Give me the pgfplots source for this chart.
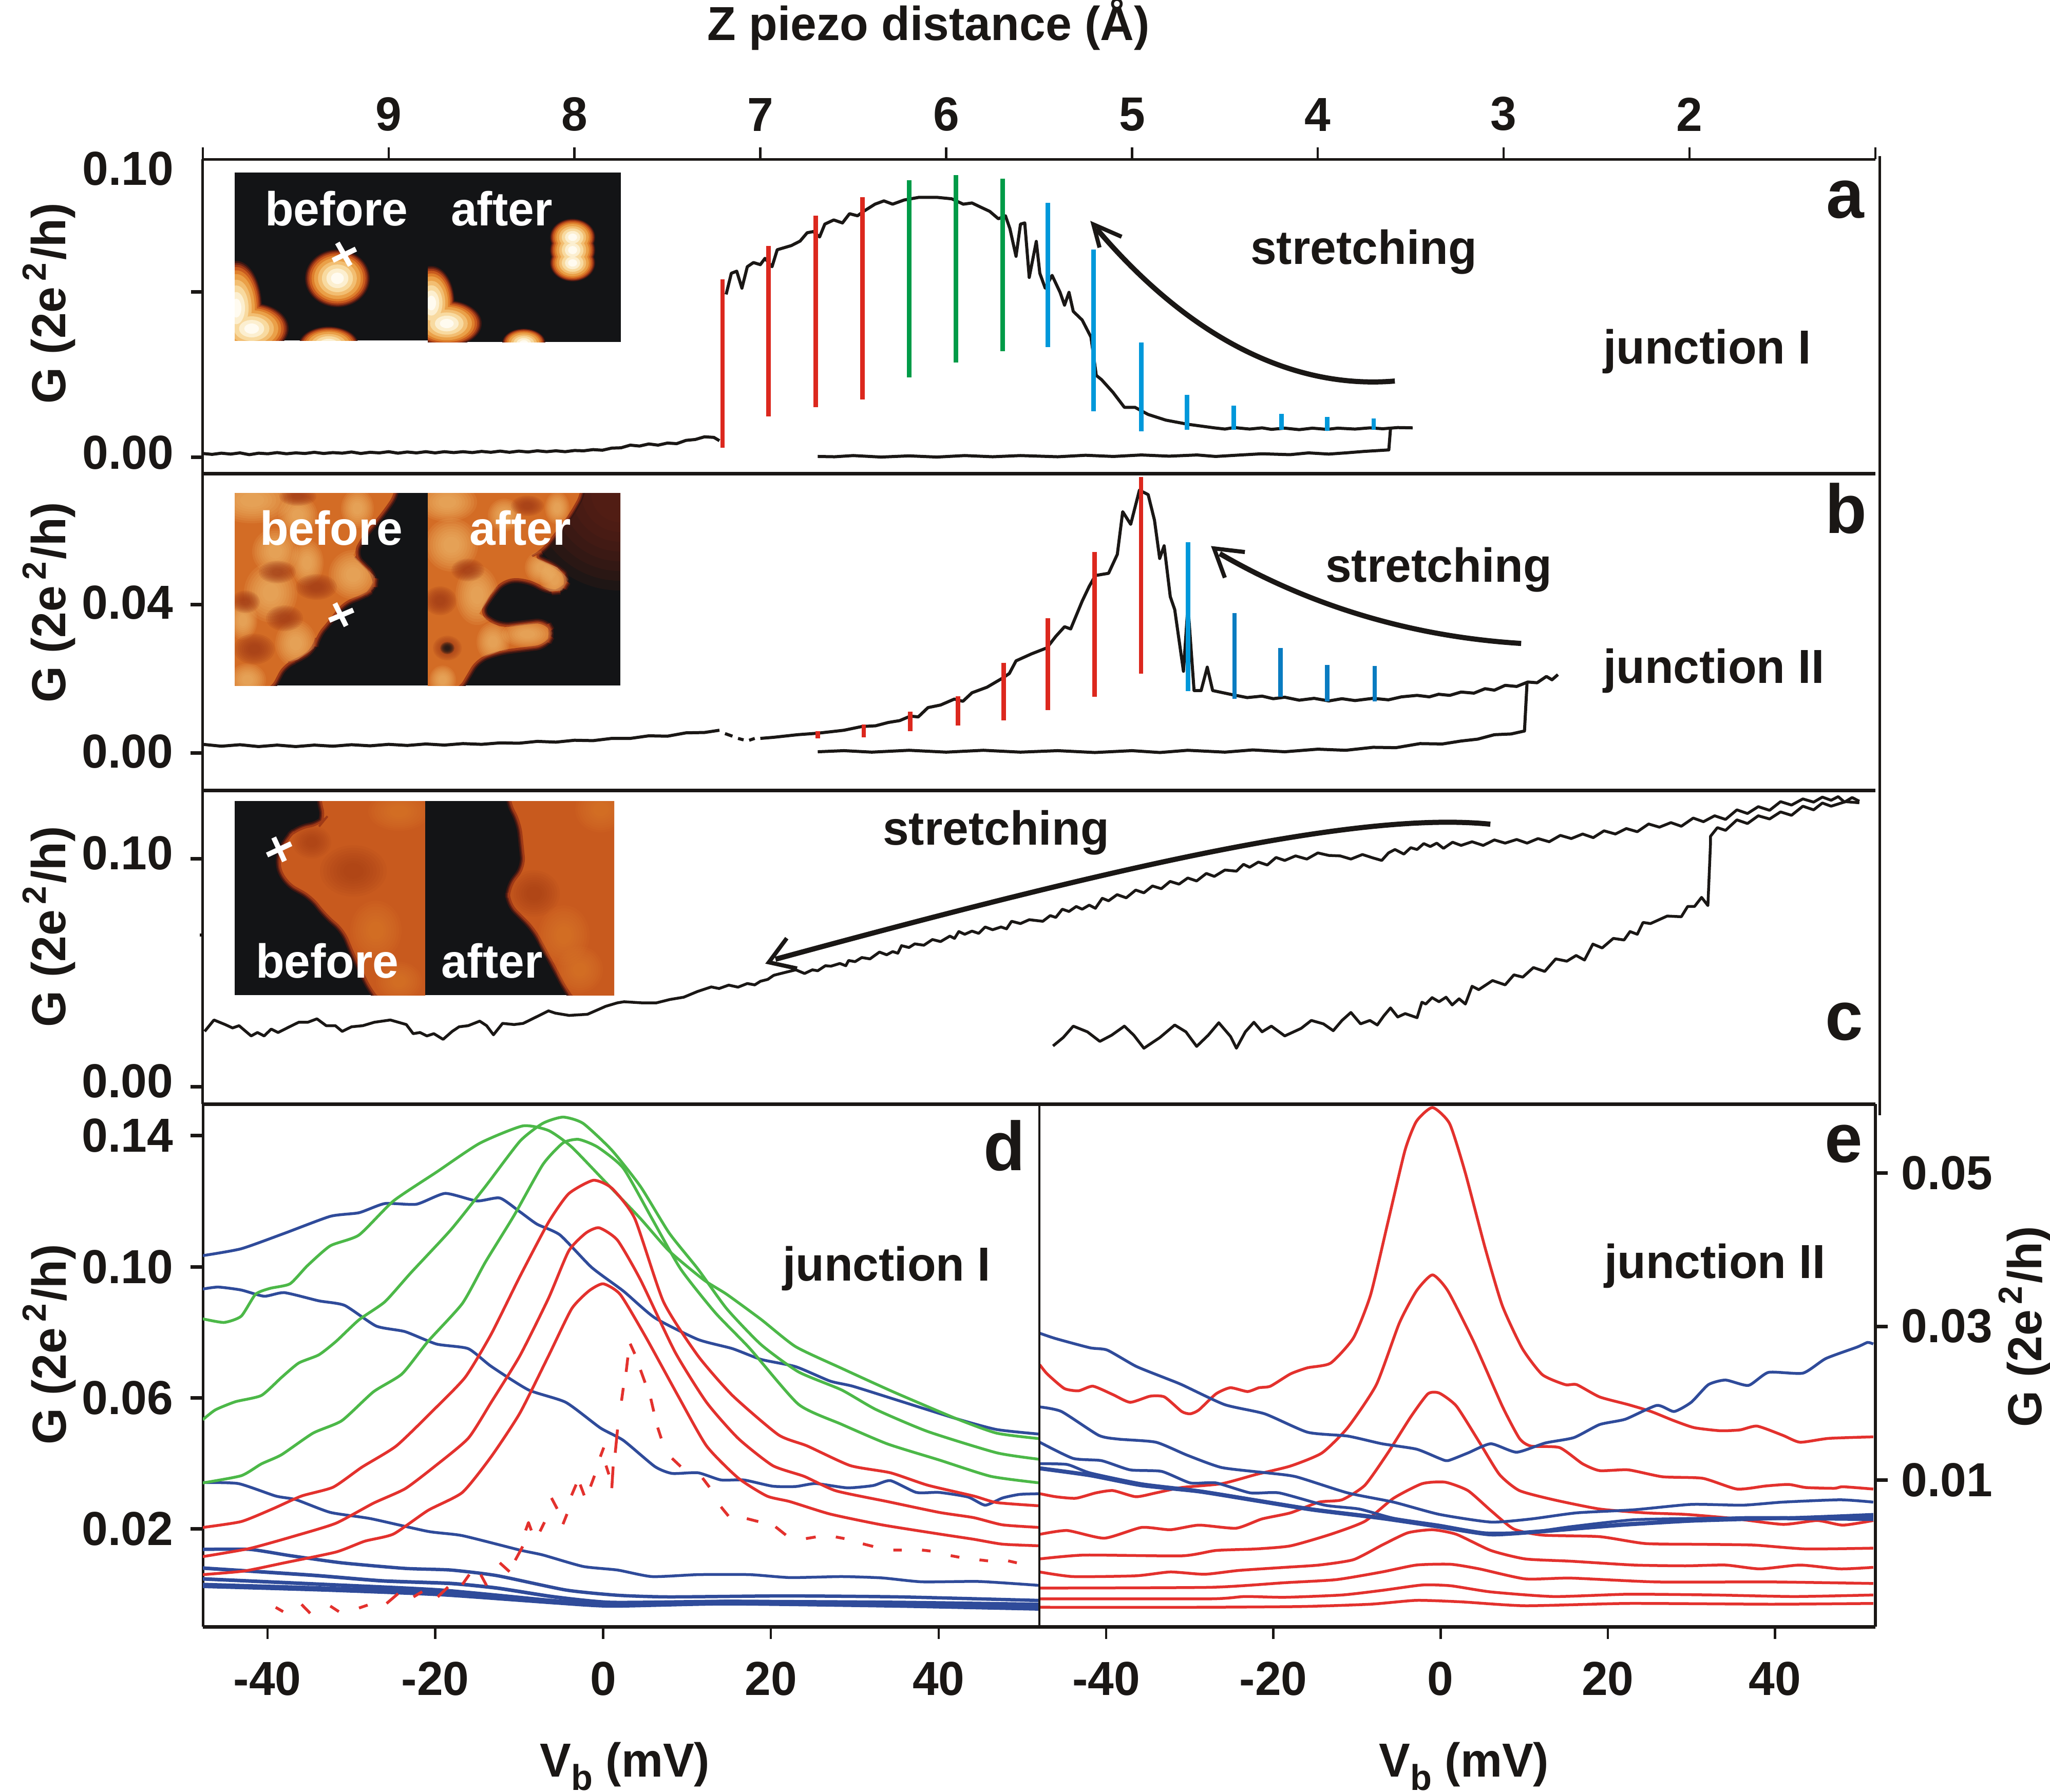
\documentclass[border=0pt]{standalone}
\usepackage{fontspec}
\setmainfont[FakeStretch=0.98]{Liberation Sans}
\usepackage{pgfplots}
\pgfplotsset{compat=1.18}

\definecolor{ink}{HTML}{1A1715}
\definecolor{redbar}{HTML}{DC281E}
\definecolor{greenbar}{HTML}{009B48}
\definecolor{bluebar}{HTML}{0098DA}
\definecolor{bluebarb}{HTML}{0A7CC1}
\definecolor{cred}{HTML}{E3312D}
\definecolor{cgreen}{HTML}{4CB848}
\definecolor{cblue}{HTML}{2F4B9A}
\definecolor{bg}{HTML}{131416}
\definecolor{c1}{HTML}{3A1612}
\definecolor{c2}{HTML}{6E2414}
\definecolor{c3}{HTML}{A03A16}
\definecolor{c4}{HTML}{C85A1E}
\definecolor{c5}{HTML}{DE7F2C}
\definecolor{c6}{HTML}{EAA048}
\definecolor{c7}{HTML}{F2BE72}
\definecolor{c8}{HTML}{F8DAA0}
\definecolor{c9}{HTML}{FCEFD0}
\definecolor{c10}{HTML}{FFFBF0}

\newcommand\lbl{\bfseries\fontsize{9.3}{11}\selectfont}
\newcommand\lett{\bfseries\fontsize{13.5}{15}\selectfont}
\newcommand\gunit{G (2e\textsuperscript{\,2}/h)}
\newcommand\vbias{V\raisebox{-2.6pt}{\fontsize{7}{8}\selectfont b} (mV)}

% contour layers of blobs: list x/y/rx/ry, list scale/colour
\newcommand\blobs[2]{%
  \foreach \lev/\cl in {#2}{%
    \foreach \px/\py/\rx/\ry in {#1}{%
      \fill[\cl] (\px,\py) ellipse ({\rx*\lev} and {\ry*\lev});
    }
  }}
% soft blobs: stacked see-through ellipses
\newcommand\soft[3]{%
  \foreach \lev in {1,.9,.8,.7,.6,.5,.4,.3}{%
    \foreach \px/\py/\rx/\ry in {#1}{%
      \fill[#2,opacity=#3] (\px,\py) ellipse ({\rx*\lev} and {\ry*\lev});
    }
  }}
\newcommand\field[2]{%
  \draw[c1,line width=1.5pt,rounded corners=2pt] #1 -- cycle;
  \draw[c2,line width=.9pt,rounded corners=2pt] #1 -- cycle;
  \draw[c3,line width=.4pt,fill=#2,rounded corners=2pt] #1 -- cycle;}
\newcommand\pab{(400,930) -- (772,930) -- (772,960) -- (746,998) -- (705,1047) -- (688,1081) -- (705,1099) -- (730,1123) -- (728,1146) -- (705,1161) -- (670,1172) -- (643,1208) -- (616,1239) -- (612,1262) -- (580,1284) -- (554,1293) -- (527,1345) -- (400,1345)}
\newcommand\paa{(800,930) -- (1134,930) -- (1134,960) -- (1107,1007) -- (1054,1074) -- (1036,1083) -- (1085,1105) -- (1107,1128) -- (1094,1150) -- (1071,1152) -- (1027,1128) -- (982,1128) -- (955,1159) -- (933,1195) -- (973,1221) -- (1063,1210) -- (1076,1233) -- (1063,1257) -- (973,1268) -- (929,1284) -- (893,1345) -- (800,1345)}

\pgfplotsset{
  panel/.style={
    scale only axis, at={(39.5pt,-316.8pt)}, anchor=south west,
    axis line style={-,line width=.5pt,ink},
    tick align=outside, major tick length=2.4pt,
    tick label style={font=\lbl,inner sep=0pt,text=ink},
    scaled y ticks=false,
    x tick style={line width=.45pt,ink},
    y tick style={line width=.7pt,ink},
    yticklabel shift=3.2pt, xticklabel shift=4.2pt,
    every axis y label/.style={rotate=90,anchor=base,font=\lbl,text=ink},
    every axis x label/.style={anchor=base,font=\lbl,text=ink},
  },
  curve/.style={line width=.55pt,line join=round},
  rc/.style={curve,cred,smooth,tension=.35},
  gc/.style={curve,cgreen,smooth,tension=.35},
  bc/.style={curve,cblue,smooth,tension=.35},
  trace/.style={ink,line width=.6pt,line join=round},
  zbar/.style={line width=.85pt,#1},
}

\begin{document}
\begin{tikzpicture}
\useasboundingbox (0pt,0pt) rectangle (399.2pt,-348.9pt);

% panel a
\begin{axis}[panel, at={(39.5pt,-92.2pt)}, width=325.7pt, height=61.2pt,
  x dir=reverse, xmin=1, xmax=10, ymin=-0.0055, ymax=0.1,
  axis x line*=top, axis y line*=left,
  xtick={1,2,3,4,5,6,7,8,9,10},
  xticklabels={{},2,3,4,5,6,7,8,9,{}},
  xticklabel shift=3pt, major tick length=2.3pt,
  ytick={0,0.0555}, yticklabels={0.00,{}},
  extra y ticks={0.0953}, extra y tick labels={0.10},
  extra y tick style={major tick style={draw=none}},
  yticklabel style={yshift=.9pt},
  ylabel={\gunit}, ylabel style={at={(axis description cs:-0.082,0.541)}},
]
\addplot[trace] coordinates {(10,.0012)(9.95,.0009)(9.9,.0013)(9.85,.0010)(9.8,.0014)(9.75,.0008)(9.7,.0013)(9.65,.0011)(9.6,.0015)(9.55,.0011)(9.5,.0014)(9.45,.0012)(9.4,.0016)(9.35,.0012)(9.3,.0015)(9.25,.0013)(9.2,.0017)(9.15,.0012)(9.1,.0016)(9.05,.0014)(9,.0018)(8.95,.0013)(8.9,.0017)(8.85,.0014)(8.8,.0018)(8.75,.0014)(8.7,.0018)(8.65,.0015)(8.6,.0018)(8.55,.0015)(8.5,.0019)(8.45,.0016)(8.4,.0020)(8.35,.0016)(8.3,.0020)(8.25,.0017)(8.2,.0021)(8.15,.0018)(8.1,.0021)(8.05,.0018)(8,.0022)(7.95,.0021)(7.9,.0025)(7.85,.0023)(7.8,.0030)(7.75,.0031)(7.7,.0040)(7.65,.0037)(7.6,.0044)(7.55,.0040)(7.5,.0047)(7.45,.0045)(7.4,.0056)(7.35,.0059)(7.3,.0068)(7.25,.0066)(7.22,.0055)};
\addplot[trace] coordinates {(7.184,.0546)(7.156,.0617)(7.127,.0624)(7.099,.0567)(7.07,.0639)(7.037,.0653)(7,.0646)(6.975,.0667)(6.937,.0639)(6.909,.0696)(6.871,.0703)(6.833,.071)(6.786,.0725)(6.748,.0753)(6.715,.0757)(6.681,.0739)(6.653,.0782)(6.605,.0796)(6.558,.0786)(6.52,.0817)(6.477,.081)(6.444,.0825)(6.383,.0849)(6.335,.086)(6.288,.0849)(6.226,.0863)(6.146,.0872)(6.051,.0872)(5.97,.0867)(5.908,.0849)(5.861,.0853)(5.814,.0839)(5.766,.0825)(5.719,.08)(5.681,.081)(5.657,.0767)(5.624,.0674)(5.6,.0782)(5.577,.0786)(5.553,.0603)(5.515,.0724)(5.496,.0617)(5.467,.0567)(5.43,.061)(5.387,.0553)(5.363,.051)(5.339,.0553)(5.316,.0489)(5.268,.046)(5.221,.0403)(5.192,.0274)(5.164,.026)(5.102,.0217)(5.041,.0167)(4.984,.0167)(4.913,.0143)(4.818,.0124)(4.699,.011)(4.557,.0098)(4.5,.0094)(4.45,.0099)(4.367,.0094)(4.3,.0098)(4.25,.0093)(4.178,.0097)(4.1,.0092)(4.03,.0097)(3.95,.0093)(3.893,.0097)(3.8,.0094)(3.72,.0098)(3.65,.0095)(3.57,.0099)(3.49,.0098)};
\addplot[trace] coordinates {(3.609,.0095)(3.618,.0024)(3.75,.0019)(3.85,.0014)(3.941,.001)(4.05,.0014)(4.15,.0008)(4.3,.0011)(4.415,.0007)(4.55,.0002)(4.65,.0007)(4.8,.0003)(4.95,.0007)(5.1,.0002)(5.25,.0006)(5.4,.0001)(5.6,.0005)(5.75,.0001)(5.9,.0005)(6.05,.0000)(6.2,.0004)(6.35,0)(6.5,.0005)(6.6,.0001)(6.691,.0002)};
\addplot[zbar=redbar] coordinates {(7.204,.0597)(7.204,.0031)};
\addplot[zbar=redbar] coordinates {(6.956,.0709)(6.956,.0136)};
\addplot[zbar=redbar] coordinates {(6.702,.081)(6.702,.0167)};
\addplot[zbar=redbar] coordinates {(6.45,.0872)(6.45,.0193)};
\addplot[zbar=greenbar] coordinates {(6.199,.0929)(6.199,.0267)};
\addplot[zbar=greenbar] coordinates {(5.948,.0947)(5.948,.0317)};
\addplot[zbar=greenbar] coordinates {(5.696,.0934)(5.696,.0355)};
\addplot[zbar=bluebar] coordinates {(5.453,.0853)(5.453,.0369)};
\addplot[zbar=bluebar] coordinates {(5.207,.0697)(5.207,.0153)};
\addplot[zbar=bluebar] coordinates {(4.95,.0384)(4.95,.0086)};
\addplot[zbar=bluebar] coordinates {(4.704,.0209)(4.704,.0091)};
\addplot[zbar=bluebar] coordinates {(4.453,.0172)(4.453,.0091)};
\addplot[zbar=bluebar] coordinates {(4.196,.0145)(4.196,.0091)};
\addplot[zbar=bluebar] coordinates {(3.95,.0134)(3.95,.0088)};
\addplot[zbar=bluebar] coordinates {(3.699,.0129)(3.699,.0091)};
\end{axis}

% panel b
\begin{axis}[panel, at={(39.5pt,-153.9pt)}, width=325.7pt, height=61.7pt,
  x dir=reverse, xmin=1, xmax=10, ymin=-0.00997, ymax=0.0754,
  hide x axis, axis y line*=left, unbounded coords=jump,
  ytick={0,0.04}, yticklabels={0.00,0.04}, yticklabel style={yshift=.4pt},
  ylabel={\gunit}, ylabel style={at={(axis description cs:-0.082,0.593)}},
]
\addplot[trace] coordinates {(10,.0024)(9.9,.0019)(9.8,.0023)(9.7,.0018)(9.6,.0022)(9.5,.0018)(9.4,.0022)(9.3,.0019)(9.2,.0023)(9.1,.0020)(9,.0024)(8.9,.0021)(8.8,.0025)(8.7,.0022)(8.6,.0026)(8.5,.0024)(8.4,.0028)(8.3,.0027)(8.2,.0032)(8.1,.0030)(8,.0035)(7.9,.0034)(7.8,.0040)(7.7,.0040)(7.6,.0047)(7.5,.0046)(7.4,.0055)(7.3,.0056)(7.22,.0062)};
\addplot[trace] coordinates {(7.19,.0053)(7.15,.0046)(7.13,nan)(7.12,.004)(7.09,.0036)(7.07,nan)(7.06,.0035)(7.03,.004)(7.01,nan)(7,.004)(6.928,.0043)(6.8,.0050)(6.691,.0054)(6.55,.0062)(6.454,.0072)(6.38,.0074)(6.311,.0083)(6.25,.0088)(6.193,.01)(6.15,.0098)(6.098,.0123)(6.03,.013)(5.956,.0146)(5.91,.014)(5.861,.0163)(5.78,.0178)(5.695,.0203)(5.66,.0215)(5.624,.0249)(5.54,.0268)(5.458,.0284)(5.41,.0315)(5.363,.0341)(5.33,.0335)(5.268,.041)(5.23,.045)(5.197,.0479)(5.126,.0485)(5.079,.0536)(5.05,.0651)(5.007,.0617)(4.96,.0709)(4.913,.0697)(4.879,.0628)(4.851,.0525)(4.827,.0559)(4.794,.0422)(4.77,.0387)(4.723,.0221)(4.699,.0399)(4.666,.0169)(4.628,.0169)(4.595,.0232)(4.566,.0169)(4.462,.0158)(4.38,.0150)(4.3,.0154)(4.24,.0147)(4.178,.0151)(4.1,.0143)(4.02,.0148)(3.941,.0141)(3.87,.0147)(3.8,.0142)(3.703,.0148)(3.62,.0144)(3.55,.0152)(3.466,.0156)(3.4,.0152)(3.35,.0159)(3.29,.0156)(3.229,.0165)(3.16,.0162)(3.1,.0174)(3.05,.0170)(2.992,.0183)(2.93,.0180)(2.87,.0192)(2.82,.0190)(2.77,.0207)(2.74,.0198)(2.708,.0212)};
\addplot[trace] coordinates {(2.874,.0192)(2.888,.006)(2.96,.0052)(3.05,.0050)(3.14,.0038)(3.229,.0033)(3.33,.0025)(3.45,.0026)(3.58,.0015)(3.703,.0016)(3.85,.0008)(4,.0011)(4.178,.0004)(4.35,.0009)(4.5,.0003)(4.7,.0008)(4.85,.0002)(5,.0007)(5.2,.0002)(5.4,.0007)(5.6,.0003)(5.8,.0008)(6,.0003)(6.2,.0008)(6.4,.0003)(6.55,.0007)(6.691,.0004)};
\addplot[zbar=redbar] coordinates {(6.691,.006)(6.691,.004)};
\addplot[zbar=redbar] coordinates {(6.444,.0077)(6.444,.0043)};
\addplot[zbar=redbar] coordinates {(6.193,.0112)(6.193,.006)};
\addplot[zbar=redbar] coordinates {(5.937,.0154)(5.937,.0075)};
\addplot[zbar=redbar] coordinates {(5.69,.0244)(5.69,.0089)};
\addplot[zbar=redbar] coordinates {(5.453,.0364)(5.453,.0116)};
\addplot[zbar=redbar] coordinates {(5.202,.0542)(5.202,.0152)};
\addplot[zbar=redbar] coordinates {(4.951,.0745)(4.951,.0215)};
\addplot[zbar=bluebar] coordinates {(4.699,.0569)(4.699,.0167)};
\addplot[zbar=bluebarb] coordinates {(4.448,.0378)(4.448,.0146)};
\addplot[zbar=bluebarb] coordinates {(4.201,.0284)(4.201,.0152)};
\addplot[zbar=bluebarb] coordinates {(3.95,.0238)(3.95,.014)};
\addplot[zbar=bluebarb] coordinates {(3.694,.0235)(3.694,.014)};
\end{axis}

% panel c
\begin{axis}[panel, at={(39.5pt,-215pt)}, width=325.7pt, height=61.1pt,
  x dir=reverse, xmin=1, xmax=10, ymin=-0.00766, ymax=0.13,
  hide x axis, axis y line*=left,
  ytick={0,0.1}, yticklabels={0.00,0.10}, yticklabel style={yshift=1.1pt},
  ylabel={\gunit}, ylabel style={at={(axis description cs:-0.082,0.565)}},
]
\addplot[trace,line width=.55pt] coordinates {(9.99,.0242)(9.94,.0292)(9.88,.0272)(9.84,.0257)(9.805,.0267)(9.74,.0222)(9.706,.0237)(9.67,.0222)(9.632,.0252)(9.595,.0237)(9.534,.0262)(9.484,.0282)(9.435,.0282)(9.386,.0297)(9.336,.0267)(9.287,.0267)(9.25,.0242)(9.2,.0262)(9.139,.0267)(9.077,.0282)(8.991,.0292)(8.905,.0272)(8.868,.0232)(8.831,.0237)(8.794,.0222)(8.757,.0232)(8.707,.0207)(8.658,.0242)(8.621,.0262)(8.572,.0267)(8.51,.0287)(8.473,.0267)(8.436,.0227)(8.387,.0277)(8.325,.0272)(8.276,.0277)(8.189,.0312)(8.14,.0332)(8.103,.0322)(8.029,.0312)(7.93,.0317)(7.832,.0352)(7.77,.0367)(7.733,.0372)(7.634,.0367)(7.56,.0367)(7.486,.0382)(7.412,.0392)(7.338,.0417)(7.264,.0437)(7.222,.0430)(7.17,.0445)(7.12,.0436)(7.07,.0452)(7.03,.0446)(6.999,.0462)(6.96,.0470)(6.928,.0488)(6.87,.0500)(6.809,.0512)(6.762,.0496)(6.72,.0512)(6.691,.0508)(6.65,.0530)(6.62,.0528)(6.572,.0540)(6.54,.0530)(6.525,.0553)(6.49,.0548)(6.454,.0566)(6.41,.0560)(6.359,.0590)(6.32,.0578)(6.288,.0592)(6.26,.0585)(6.24,.0618)(6.2,.0610)(6.169,.0626)(6.12,.0620)(6.074,.0645)(6.03,.0636)(5.98,.0660)(5.955,.0650)(5.932,.0680)(5.9,.0668)(5.861,.0682)(5.825,.0672)(5.79,.0700)(5.75,.0688)(5.705,.0700)(5.675,.0692)(5.648,.0725)(5.6,.0715)(5.553,.0732)(5.48,.0725)(5.44,.0750)(5.41,.0742)(5.375,.0778)(5.339,.0768)(5.3,.0790)(5.268,.0778)(5.23,.0796)(5.197,.0782)(5.16,.0826)(5.126,.0815)(5.08,.0842)(5.031,.0828)(4.98,.0862)(4.936,.0850)(4.89,.0880)(4.842,.0868)(4.795,.0900)(4.747,.0888)(4.7,.0915)(4.652,.0902)(4.6,.0935)(4.557,.0922)(4.5,.0950)(4.438,.0945)(4.4,.0975)(4.367,.0962)(4.32,.0985)(4.272,.0972)(4.225,.1005)(4.178,.0992)(4.12,.1012)(4.059,.0998)(4,.1025)(3.941,.1014)(3.88,.1012)(3.822,.0998)(3.76,.1018)(3.703,.1003)(3.656,.0992)(3.62,.1025)(3.585,.1040)(3.537,.1020)(3.5,.1048)(3.466,.1040)(3.43,.1066)(3.395,.1053)(3.36,.1068)(3.324,.1045)(3.275,.1072)(3.229,.1058)(3.17,.1074)(3.11,.1058)(3.05,.1082)(2.992,.1068)(2.93,.1084)(2.874,.1068)(2.815,.1088)(2.755,.1074)(2.695,.1102)(2.636,.1088)(2.575,.1108)(2.518,.1092)(2.46,.1122)(2.399,.1108)(2.34,.1132)(2.281,.1118)(2.22,.1152)(2.162,.1138)(2.1,.1158)(2.044,.1142)(1.98,.1178)(1.925,.1162)(1.865,.1188)(1.806,.1172)(1.745,.1214)(1.688,.1198)(1.63,.1228)(1.569,.1212)(1.51,.1250)(1.451,.1235)(1.39,.1262)(1.332,.1248)(1.285,.1270)(1.238,.1256)(1.2,.1272)(1.166,.1248)(1.125,.1268)(1.086,.1252)};
\addplot[trace,line width=.55pt] coordinates {(1.086,.1245)(1.16,.1250)(1.238,.1230)(1.285,.1244)(1.332,.1214)(1.39,.1230)(1.451,.1190)(1.51,.1205)(1.569,.1174)(1.63,.1188)(1.688,.1154)(1.745,.1170)(1.806,.1124)(1.85,.1136)(1.887,.1098)(1.887,.1066)(1.901,.0794)(1.935,.0830)(1.973,.0790)(2.01,.0790)(2.044,.0745)(2.12,.0748)(2.21,.0715)(2.25,.0720)(2.281,.0668)(2.32,.0680)(2.352,.0643)(2.41,.0650)(2.47,.0608)(2.52,.0625)(2.565,.0555)(2.61,.0575)(2.66,.0550)(2.72,.0560)(2.779,.0505)(2.84,.0522)(2.897,.0480)(2.945,.0490)(2.992,.0446)(3.06,.0465)(3.134,.0425)(3.17,.0440)(3.206,.0362)(3.24,.0385)(3.277,.0358)(3.31,.0392)(3.348,.0372)(3.385,.0390)(3.419,.0362)(3.44,.0370)(3.466,.0302)(3.53,.0320)(3.57,.0305)(3.609,.0345)(3.645,.0310)(3.68,.0270)(3.72,.0290)(3.77,.0275)(3.822,.0325)(3.87,.0290)(3.917,.0245)(3.97,.0275)(4.035,.0290)(4.09,.0255)(4.178,.0222)(4.25,.0265)(4.3,.0240)(4.344,.0282)(4.39,.0240)(4.438,.0168)(4.47,.0220)(4.533,.0280)(4.59,.0225)(4.652,.0176)(4.71,.0240)(4.77,.0270)(4.85,.0215)(4.936,.0168)(4.99,.0225)(5.041,.0265)(5.11,.0225)(5.173,.0198)(5.24,.0240)(5.316,.0265)(5.37,.0215)(5.425,.0178)};
\end{axis}

% panel d
\begin{axis}[panel, at={(39.5pt,-316.8pt)}, width=162.9pt, height=101.8pt,
  xmin=-47.7, xmax=52, ymin=-0.0099, ymax=0.1497,
  axis x line*=bottom, axis y line*=left, unbounded coords=jump,
  xtick={-40,-20,0,20,40}, xticklabels={-40,-20,0,20,40},
  ytick={0.02,0.06,0.10,0.14}, yticklabels={0.02,0.06,0.10,0.14},
  xlabel={\vbias}, xlabel style={at={(axis description cs:0.5046,-0.2868)}},
  ylabel={\gunit}, ylabel style={at={(axis description cs:-0.1639,0.54)}},
]
% blue
\addplot[bc] coordinates {(-47.71,.1034)(-43.13,.1055)(-37.99,.1102)(-32.51,.1154)(-29.09,.1165)(-26.01,.1193)(-22.24,.1191)(-18.82,.1224)(-15.05,.1201)(-12.31,.121)(-9.92,.1168)(-7.87,.113)(-5.13,.1097)(-1.36,.0998)(2.41,.0926)(6.17,.0844)(11.31,.0778)(15.42,.075)(18.84,.0717)(22.95,.0695)(27.05,.0651)(29.79,.0635)(35.27,.0591)(42.12,.0536)(46.91,.0503)(52.05,.0489)};
\addplot[bc] coordinates {(-47.71,.0932)(-45.87,.0938)(-43.13,.0929)(-40.39,.091)(-37.99,.0921)(-33.88,.0896)(-30.8,.0882)(-27.04,.0819)(-23.61,.0802)(-19.85,.0764)(-16.08,.075)(-13.34,.0696)(-8.89,.0624)(-4.44,.0586)(-.33,.0508)(2.41,.047)(6.17,.039)(8.22,.0369)(11.31,.0371)(14.05,.0349)(16.78,.0349)(20.21,.033)(22.95,.0329)(25.34,.0338)(29.11,.0325)(32.19,.0332)(34.24,.0347)(37.33,.0311)(40.06,.0311)(43.49,.0297)(45.54,.0272)(47.6,.0294)(49.65,.0305)(52.05,.0307)};
\addplot[bc] coordinates {(-47.71,.0341)(-43.47,.0338)(-39.02,.03)(-36.62,.0289)(-32.51,.025)(-27.72,.0231)(-20.87,.0192)(-16.77,.0179)(-9.92,.0135)(-7.18,.012)(-2.39,.0085)(1.72,.0074)(5.83,.0054)(11.31,.006)(17.47,.006)(22.26,.0051)(28.42,.0054)(33.22,.005)(38.01,.0038)(44.86,.0039)(52.05,.0027)};
\addplot[bc,line width=.65pt] coordinates {(-47.71,.0137)(-42.1,.0137)(-37.31,.0118)(-31.14,.0096)(-23.61,.0079)(-18.14,.0074)(-12.66,.0057)(-4.44,.0013)(1.72,-.0003)(7.88,-.0008)(21.58,-.0005)(35.27,-.0008)(52.05,-.0019)};
\addplot[bc,line width=.7pt] coordinates {(-47.71,.008)(-34.57,.0058)(-26.35,.0041)(-18.14,.0033)(-12.66,.0019)(-5.81,-.0008)(1.04,-.0025)(14.73,-.0022)(35.27,-.0025)(52.05,-.0031)};
\addplot[bc,line width=.7pt] coordinates {(-47.71,.0047)(-33.2,.003)(-19.5,.0013)(-5.81,-.002)(1.04,-.0033)(14.73,-.0022)(35.27,-.0028)(52.05,-.0036)};
\addplot[bc,line width=1.05pt] coordinates {(-47.71,.0027)(-33.2,.0016)(-19.5,.0002)(-5.81,-.0023)(1.04,-.0033)(14.73,-.0026)(35.27,-.0033)(52.05,-.0042)};
% green
\addplot[gc] coordinates {(-47.71,.0841)(-45.18,.083)(-43.13,.0849)(-41.42,.0916)(-39.7,.0934)(-37.31,.0948)(-35.25,.1003)(-32.51,.1064)(-29.09,.1097)(-24.98,.1201)(-19.85,.1289)(-14.71,.1377)(-9.58,.143)(-6.5,.1416)(-3.76,.1366)(.35,.1257)(4.46,.1147)(7.88,.1048)(12,.096)(14.73,.0916)(18.84,.0839)(22.95,.0756)(28.42,.069)(34.59,.0618)(42.12,.0536)(46.91,.0492)(52.05,.0475)};
\addplot[gc] coordinates {(-47.71,.0533)(-46.21,.0563)(-43.81,.0588)(-40.73,.0607)(-38.33,.0662)(-36.28,.0706)(-33.88,.0731)(-31.83,.0772)(-29.09,.0838)(-26.01,.0893)(-22.93,.0981)(-18.14,.1113)(-14.03,.1245)(-9.92,.1383)(-7.18,.1438)(-4.78,.1457)(-2.39,.1438)(1.04,.1356)(4.46,.1245)(7.88,.1103)(11.31,.0993)(14.73,.0872)(18.84,.0762)(23.29,.0679)(28.42,.0624)(32.53,.0564)(38.69,.0497)(46.91,.0432)(52.05,.0412)};
\addplot[gc] coordinates {(-47.71,.034)(-43.13,.0362)(-40.73,.0398)(-38.33,.0426)(-34.57,.0492)(-31.14,.053)(-27.38,.0618)(-23.96,.0673)(-20.87,.0772)(-16.77,.0888)(-14.03,.1014)(-10.6,.1157)(-7.18,.1312)(-4.78,.1378)(-2.93,.1389)(-.68,.1366)(2.41,.1301)(5.83,.1147)(9.25,.0993)(13.36,.086)(17.47,.0751)(23.29,.058)(28.42,.0519)(33.9,.0459)(40.06,.041)(46.23,.036)(52.05,.034)};
% red
\addplot[rc] coordinates {(-47.71,.0204)(-43.13,.0222)(-39.36,.0261)(-35.94,.03)(-32.17,.0327)(-28.75,.0388)(-24.64,.0453)(-20.19,.0563)(-16.42,.0663)(-13.34,.0794)(-9.92,.097)(-6.5,.1136)(-4.1,.1223)(-1.16,.1264)(1.04,.124)(3.78,.1147)(7.2,.0893)(11.31,.0728)(15.42,.0607)(20.89,.0487)(24.32,.0453)(29.45,.0393)(34.24,.0371)(38.69,.0333)(44.17,.03)(46.91,.028)(52.05,.027)};
\addplot[rc] coordinates {(-47.71,.0115)(-42.1,.014)(-36.62,.0179)(-31.83,.0217)(-27.38,.0278)(-23.61,.0322)(-20.19,.0388)(-16.08,.0476)(-13.34,.0586)(-9.92,.0728)(-6.5,.0904)(-4.1,.1048)(-2.05,.1103)(-.47,.1119)(1.72,.1081)(4.46,.096)(8.57,.074)(12.33,.0586)(16.1,.0476)(20.21,.0393)(23.97,.036)(27.74,.0316)(33.9,.0283)(40.06,.025)(44.17,.0234)(47.6,.0212)(52.05,.0204)};
\addplot[rc] coordinates {(-47.71,.006)(-42.78,.0071)(-37.99,.0096)(-31.83,.0129)(-28.41,.0162)(-24.98,.0184)(-20.87,.0256)(-16.77,.0311)(-13.34,.042)(-9.92,.0553)(-6.5,.0728)(-3.76,.0871)(-1.7,.0926)(.01,.0948)(2.06,.0915)(5.14,.0783)(8.91,.0607)(12.33,.0453)(16.1,.0355)(19.52,.03)(22.26,.0283)(27.05,.0245)(33.22,.0212)(40.06,.0184)(44.17,.0168)(47.6,.0153)(52.05,.0148)};
% dashed red, the dashes as drawn
\addplot[curve,cred] coordinates {(-39.02,-.004)(-38.13,-.0053)(-37,nan)(-35.94,-.0031)(-34.91,-.0058)(-33,nan)(-32.51,-.0036)(-31.49,-.0053)(-30,nan)(-29.09,-.0042)(-28.06,-.0033)(-27,nan)(-25.8,-.0028)(-24.43,.0002)(-23,nan)(-22.59,-.0008)(-21.56,.0008)(-20,nan)(-19.71,-.0008)(-18.48,.0022)(-17,nan)(-16.77,.003)(-15.94,.006)(-15,nan)(-14.58,.006)(-13.89,.0027)(-13,nan)(-12.31,.0096)(-11.15,.0069)(-10.8,nan)(-10.47,.0104)(-9.58,.0146)(-9.4,nan)(-9.23,.0195)(-8.89,.0219)(-8.55,.0195)(-8,nan)(-7.52,.0192)(-6.98,.022)(-6.5,nan)(-6.15,.0294)(-5.47,.0261)(-5.2,nan)(-4.78,.0214)(-4.3,.0245)(-4,nan)(-3.76,.0302)(-3.21,.0335)(-3,nan)(-2.73,.0335)(-2.25,.0302)(-1.9,nan)(-1.5,.0329)(-1.02,.0362)(-.7,nan)(-.33,.042)(.08,.0448)(.2,nan)(.35,.0393)(.69,.0366)(.8,nan)(1.04,.0324)(1.2,.0390)(1.3,nan)(1.45,.0432)(1.72,.0503)(2,nan)(2.2,.0591)(2.41,.063)(2.6,nan)(2.75,.0679)(2.95,.0723)(3.1,nan)(3.23,.0765)(3.78,.0734)(4.1,nan)(4.46,.0685)(5.01,.0646)(5.3,nan)(5.69,.0597)(6.04,.0558)(6.3,nan)(6.51,.0509)(6.93,.0476)(7.5,nan)(8.22,.0415)(9.25,.039)(10,nan)(11.85,.0355)(12.68,.0327)(13.4,nan)(14.05,.0267)(14.94,.0239)(16,nan)(17.13,.0231)(18.5,.0222)(19.5,nan)(20.55,.0206)(21.78,.0181)(23,nan)(24.18,.017)(25.34,.0175)(26.5,nan)(27.74,.0175)(28.77,.017)(30,nan)(30.96,.0154)(32.19,.0146)(33.5,nan)(34.59,.0135)(35.61,.0135)(37,nan)(38.01,.0135)(39.03,.0132)(40.2,nan)(41.43,.0118)(42.46,.0113)(43.6,nan)(44.86,.0105)(45.88,.0102)(47,nan)(48.28,.0102)(49.31,.0096)};
\end{axis}

% panel e
\begin{axis}[panel, at={(202.4pt,-316.8pt)}, width=162.8pt, height=101.8pt,
  xmin=-47.98, xmax=52, ymin=-0.00913, ymax=0.05896,
  axis x line*=bottom, axis y line*=right,
  xtick={-40,-20,0,20,40}, xticklabels={-40,-20,0,20,40},
  ytick={0.01,0.03,0.05}, yticklabels={0.01,0.03,0.05},
  yticklabel shift=2.5pt,
  xlabel={\vbias}, xlabel style={at={(axis description cs:0.508,-0.2868)}},
  ylabel={\gunit}, ylabel style={at={(axis description cs:1.199,0.574)}},
]
% red
\addplot[rc] coordinates {(-47.94,.025)(-47.05,.0238)(-45,.0219)(-43.29,.0216)(-41.58,.0222)(-39.18,.0211)(-37.13,.0201)(-34.73,.0209)(-33.02,.0208)(-30.96,.0189)(-29.94,.0186)(-28.91,.0191)(-26.86,.0212)(-25.14,.022)(-23.09,.0215)(-21.72,.022)(-20.35,.0222)(-17.95,.0238)(-15.9,.0246)(-13.16,.0252)(-10.42,.0285)(-8.37,.0341)(-6.31,.0435)(-4.26,.0529)(-2.89,.0567)(-.97,.0585)(1.08,.0564)(2.93,.0501)(5.33,.0402)(7.38,.0327)(9.78,.0271)(12.17,.0237)(14.91,.0224)(16.28,.0224)(19.02,.0208)(22.44,.0198)(25.18,.0189)(27.92,.0177)(30.32,.0168)(33.4,.0164)(35.8,.0165)(37.85,.017)(40.93,.0158)(42.99,.0149)(46.41,.0154)(51.75,.0156)};
\addplot[rc] coordinates {(-47.94,.0082)(-46.03,.0078)(-43.63,.0076)(-41.23,.0083)(-39.18,.0086)(-36.44,.0078)(-34.04,.0083)(-30.96,.009)(-26.17,.0095)(-22.06,.0107)(-17.95,.0118)(-14.19,.0135)(-11.11,.0168)(-7.68,.0224)(-4.94,.0304)(-2.89,.0346)(-.97,.0367)(.88,.0346)(3.96,.028)(7.38,.0196)(9.43,.0154)(10.8,.0144)(14.23,.0142)(16.97,.0121)(19.02,.0112)(22.44,.0113)(26.55,.0104)(31.35,.0102)(35.45,.0088)(38.88,.0092)(41.62,.0094)(43.67,.009)(47.09,.0089)(48.12,.0091)(51.75,.0088)};
\addplot[rc] coordinates {(-47.94,.0029)(-44.66,.0034)(-40.21,.0024)(-35.76,.0038)(-32.33,.0035)(-28.91,.0041)(-24.46,.0037)(-21.38,.0049)(-17.95,.0057)(-14.53,.0071)(-11.79,.0074)(-9.05,.0093)(-6.31,.0135)(-3.57,.0182)(-1.52,.0212)(-.15,.0213)(1.9,.0196)(4.64,.0149)(7.04,.0107)(9.43,.0086)(13.54,.0074)(19.02,.0062)(24.5,.0057)(29.29,.0055)(34.77,.005)(40.93,.0042)(45.04,.0047)(48.12,.0041)(51.75,.0047)};
\addplot[rc] coordinates {(-47.94,-.0003)(-42.6,.0002)(-30.96,.0001)(-26.86,.0008)(-22.06,.001)(-17.95,.0014)(-13.16,.0029)(-9.05,.0046)(-5.63,.0076)(-2.21,.0095)(.53,.0097)(3.27,.0086)(6.01,.006)(8.75,.0036)(12.17,.0028)(19.02,.0026)(24.5,.0017)(31.35,.0016)(37.51,.0015)(43.67,.001)(51.75,.0011)};
\addplot[rc] coordinates {(-47.94,-.002)(-43.97,-.0026)(-36.44,-.0025)(-32.33,-.002)(-28.22,-.0023)(-24.12,-.0018)(-18.64,-.0014)(-14.53,-.0011)(-10.42,-.0004)(-7,.0015)(-3.92,.0031)(-.97,.0035)(1.9,.0029)(6.01,.0008)(10.12,-.0003)(15.6,-.0006)(23.13,-.0011)(29.29,-.0012)(34.08,-.0011)(38.19,-.0016)(42.99,-.0011)(47.78,-.0016)(51.75,-.0014)};
\addplot[rc] coordinates {(-47.94,-.0041)(-27.54,-.004)(-18.64,-.0034)(-12.48,-.003)(-7,-.002)(-2.89,-.0011)(1.22,-.001)(4.64,-.0016)(10.12,-.0029)(15.6,-.0028)(25.87,-.0033)(39.56,-.0033)(51.75,-.0035)};
\addplot[rc] coordinates {(-47.94,-.0055)(-27.54,-.0055)(-23.43,-.0052)(-18.64,-.0053)(-11.79,-.005)(-7,-.0044)(-2.21,-.0037)(1.22,-.0038)(6.01,-.0046)(13.54,-.0052)(22.44,-.0049)(32.72,-.005)(42.3,-.0052)(51.75,-.005)};
\addplot[rc] coordinates {(-47.94,-.0066)(-28.91,-.0066)(-16.58,-.0065)(-8.37,-.0062)(-2.89,-.0057)(2.59,-.0059)(10.12,-.0064)(22.44,-.0061)(39.56,-.0062)(51.75,-.0061)};
% blue
\addplot[bc] coordinates {(-47.94,.0291)(-46.03,.0284)(-41.92,.0272)(-39.86,.0269)(-36.44,.0248)(-33.02,.0233)(-30.96,.0224)(-25.83,.0198)(-21.03,.0186)(-15.9,.0162)(-11.11,.0157)(-7,.0147)(-2.89,.014)(-.15,.0128)(.88,.0125)(3.27,.0135)(6.01,.0147)(9.09,.0136)(12.51,.0148)(15.94,.0155)(19.02,.0172)(22.1,.0179)(25.87,.0197)(27.92,.0189)(29.97,.0201)(32.03,.0224)(34.08,.023)(36.82,.0223)(39.22,.024)(43.33,.0239)(46.07,.0258)(49.83,.0273)(51.06,.0279)(51.75,.0277)};
\addplot[bc] coordinates {(-47.94,.0195)(-45.34,.0189)(-40.89,.0158)(-38.49,.0153)(-34.04,.0149)(-30.28,.0132)(-26.17,.0116)(-20.69,.0109)(-17.27,.0104)(-11.11,.0083)(-5.63,.0071)(-.15,.0055)(6.01,.0045)(10.8,.0049)(16.28,.0057)(23.13,.0061)(29.97,.0068)(36.14,.0067)(40.93,.0071)(47.78,.0074)(51.75,.0071)};
\addplot[bc] coordinates {(-47.94,.0149)(-43.97,.0128)(-40.55,.0125)(-37.13,.0113)(-33.36,.0111)(-29.94,.0096)(-26.86,.0096)(-22.75,.0083)(-19.32,.0083)(-13.85,.0067)(-9.74,.0062)(-5.63,.005)(-.15,.0041)(5.33,.0031)(10.8,.0032)(15.6,.0039)(23.13,.0048)(32.72,.005)(42.3,.0051)(51.75,.0055)};
\addplot[bc] coordinates {(-47.94,.0121)(-44.66,.012)(-41.92,.0109)(-35.76,.0095)(-28.91,.0086)(-22.06,.0074)(-15.21,.0062)(-7,.0051)(-.15,.0039)(6.01,.0029)(12.17,.0033)(22.44,.0043)(32.72,.0047)(51.75,.0053)};
\addplot[bc,line width=.8pt] coordinates {(-47.94,.0115)(-41.92,.0106)(-35.76,.0093)(-28.91,.0085)(-22.06,.0073)(-15.21,.0061)(-7,.005)(-.15,.0039)(6.01,.0029)(12.17,.0033)(22.44,.0042)(36.14,.005)(51.75,.0049)};
\end{axis}

\begin{scope}[x=.1pt,y=-.1pt]
% frame
\draw[ink,line width=.7pt] (395,922) -- (3652,922) (395,1539) -- (3652,1539) (395,2150) -- (3652,2150) (395,3168) -- (3652,3168);
\draw[ink,line width=.45pt] (3660,304) -- (3660,2172) (3652,2150) -- (3652,3168) (2024,2150) -- (2024,3168);
\draw[ink,line width=.6pt] (389,1821) -- (395,1821);

% inset a
\begin{scope}
\clip (457,336) rectangle (833,663);
\fill[bg] (457,336) rectangle (833,663);
\blobs{657/542/63/56,460/600/50/92,490/640/72/50,640/672/58/36}{1/c1,.96/c2,.92/c3,.87/c4,.8/c5,.72/c6,.6/c7,.48/c8,.34/c9,.2/c10}
\end{scope}
\begin{scope}
\clip (833,336) rectangle (1209,666);
\fill[bg] (833,336) rectangle (1209,666);
\blobs{1115/462/44/36,1115/487/44/40,1115/512/44/36,840/590/45/72,870/630/68/45,1020/668/42/28}{1/c1,.96/c2,.92/c3,.87/c4,.8/c5,.72/c6,.6/c7,.48/c8,.34/c9,.2/c10}
\end{scope}

% inset b
\begin{scope}
\clip (457,960) rectangle (833,1335);
\fill[bg] (457,960) rectangle (833,1335);
\field{\pab}{c4!50!c5}
\begin{scope}
\clip \pab -- cycle;
\soft{491/974/78/45,536/1074/45/45,527/1154/52/58,688/1119/48/48,576/1253/40/46,482/1324/36/32,696/990/32/38,580/1003/38/38,598/1096/32/45,473/1208/28/38}{c7}{.13}
\soft{540/1114/36/22,616/1143/40/25,554/1204/36/25,478/1172/28/22,495/1264/40/30,580/967/36/18}{c3}{.16}
\end{scope}
\end{scope}
\begin{scope}
\clip (833,960) rectangle (1208,1335);
\fill[bg] (833,960) rectangle (1208,1335);
\soft{1208/960/190/190}{c2}{.14}
\field{\paa}{c4!50!c5}
\begin{scope}
\clip \paa -- cycle;
\soft{871/978/58/38,879/1061/52/52,929/1159/42/58,1080/1128/28/38,960/1250/32/38,1027/1235/50/26,862/1324/26/28,1085/989/24/32,1054/1105/32/32,982/1003/32/32}{c7}{.13}
\soft{1027/985/32/20,911/1110/32/22,857/1170/32/28,871/1262/28/24}{c3}{.16}
\soft{871/1262/14/12}{bg}{.2}
\end{scope}
\end{scope}

% inset c
\begin{scope}
\clip (457,1560) rectangle (828,1938);
\fill[bg] (457,1560) rectangle (828,1938);
\field{(623,1540) -- (623,1560) -- (634,1594) -- (625,1605) -- (580,1614) -- (558,1634) -- (540,1679) -- (558,1719) -- (607,1746) -- (634,1781) -- (670,1812) -- (688,1857) -- (723,1929) -- (741,1950) -- (850,1950) -- (850,1540)}{c4}
\soft{688/1696/65/50,607/1640/38/32}{c3}{.09}
\soft{777/1911/45/38,732/1812/50/58,777/1580/60/38}{c5}{.1}
\end{scope}
\begin{scope}
\clip (828,1560) rectangle (1196,1938);
\fill[bg] (828,1560) rectangle (1196,1938);
\field{(991,1540) -- (991,1560) -- (1013,1603) -- (1022,1688) -- (991,1728) -- (991,1759) -- (1040,1808) -- (1076,1875) -- (1107,1933) -- (1121,1950) -- (1220,1950) -- (1220,1540)}{c4}
\soft{1040/1740/50/45}{c3}{.09}
\soft{1129/1888/45/45,1098/1821/50/58,1170/1576/50/45}{c5}{.1}
\end{scope}

% crosses
\draw[white,line width=1pt] (657,473) -- (682,517) (648,507) -- (693,485);
\draw[white,line width=1pt] (652,1175) -- (674,1219) (641,1208) -- (688,1188);
\draw[white,line width=1pt] (533,1631) -- (554,1677) (520,1665) -- (567,1643);

% inset words
\tikzset{tx/.style={anchor=base west,inner sep=0pt,font=\lbl,text=ink},wt/.style={tx,text=white}}
\node[wt] at (514,439) {before};
\node[wt] at (876,439) {after};
\node[wt] at (504,1061) {before};
\node[wt] at (912,1061) {after};
\node[wt] at (496,1904) {before};
\node[wt] at (857,1904) {after};

% words
\node[tx,anchor=base] at (1808,78) {Z piezo distance (Å)};
\node[tx] at (2433,514) {stretching};
\node[tx] at (2579,1133) {stretching};
\node[tx] at (1717,1645) {stretching};
\node[tx] at (3120,708) {junction I};
\node[tx] at (3120,1330) {junction II};
\node[tx] at (1522,2494) {junction I};
\node[tx] at (3122,2489) {junction II};
\node[tx,font=\lett] at (3554,424) {a};
\node[tx,font=\lett] at (3552,1038) {b};
\node[tx,font=\lett] at (3552,2025) {c};
\node[tx,font=\lett] at (1913,2279) {d};
\node[tx,font=\lett] at (3551,2263) {e};

% arrows
\draw[ink,line width=1pt] (2716,742) .. controls (2500,760) and (2300,640) .. (2135,445);
\draw[ink,line width=.8pt] (2184,461) -- (2129,437) -- (2141,482);
\draw[ink,line width=1pt] (2962,1253) .. controls (2750,1240) and (2550,1180) .. (2375,1078);
\draw[ink,line width=.8pt] (2424,1075) -- (2364,1068) -- (2385,1125);
\draw[ink,line width=1pt] (2902,1605) .. controls (2650,1580) and (2200,1680) .. (1510,1868);
\draw[ink,line width=.8pt] (1532,1827) -- (1497,1874) -- (1552,1886);
\end{scope}
\end{tikzpicture}
\end{document}
